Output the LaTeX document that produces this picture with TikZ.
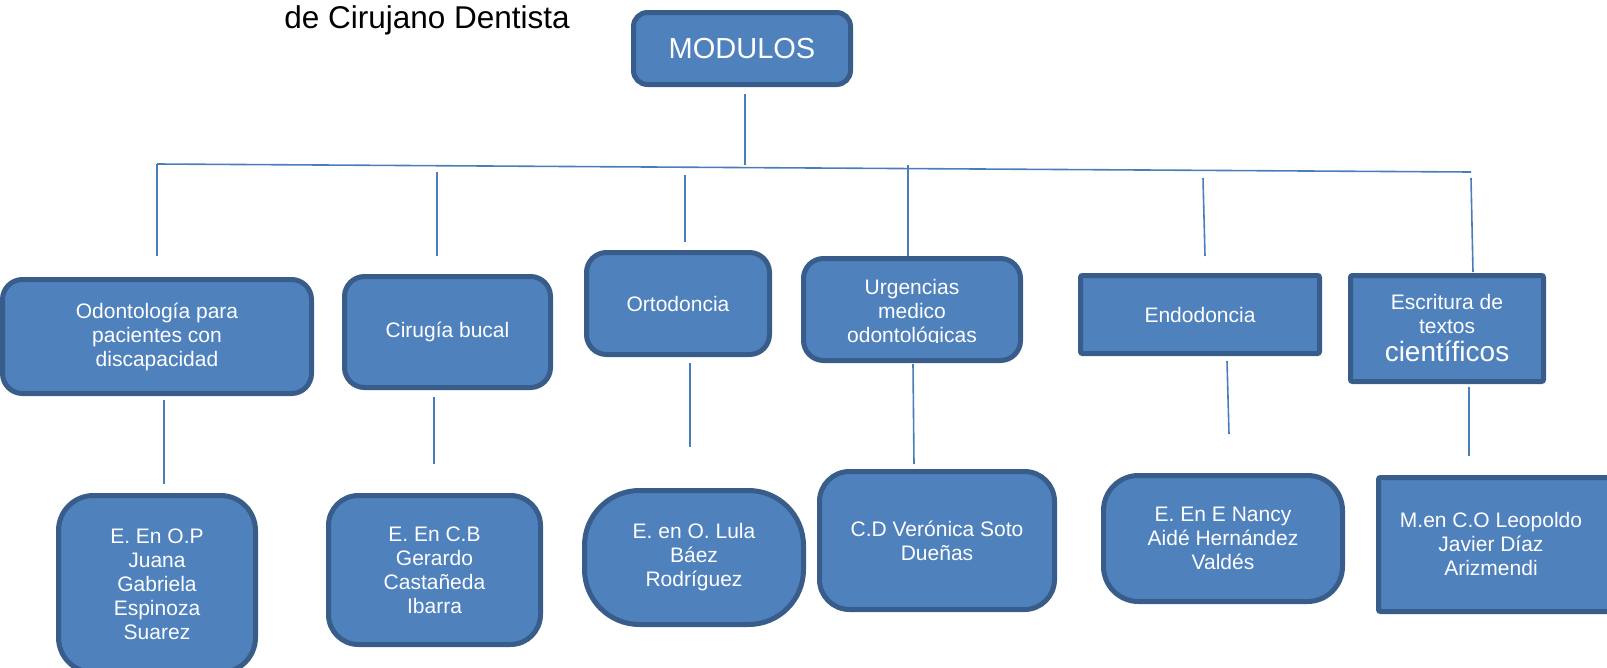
\documentclass[tikz,border=0pt]{standalone}
\usepackage{fontspec}
\setmainfont{Liberation Sans}
\definecolor{boxfill}{HTML}{4F81BD}
\definecolor{boxline}{HTML}{385D8A}
\definecolor{connc}{HTML}{4A7EBB}
\begin{document}
\begin{tikzpicture}[x=1pt,y=-1pt,
  box/.style={draw=boxline, fill=boxfill, line width=5pt, text=white, align=center, inner sep=0pt, font=\fontsize{21}{24}\selectfont},
  txt/.style={text=white, align=center, inner sep=0pt, font=\fontsize{21}{24}\selectfont},
  conn/.style={draw=connc, line width=1.6pt}]
\useasboundingbox (0,0) rectangle (1607,667);

% title
\node[anchor=base, inner sep=0pt, font=\fontsize{31.5}{36}\selectfont] (title) at (427,28) {de Cirujano Dentista};

% root
\node[box, minimum width=217, minimum height=72, rounded corners=14, font=\fontsize{29}{34}\selectfont] (mod) at (742,48.5) {MODULOS};

% level 1
\node[box, minimum width=309, minimum height=114, rounded corners=20] (b1) at (157,336.5) {Odontología para\\pacientes con\\discapacidad};
\node[box, minimum width=206, minimum height=111, rounded corners=20] (b2) at (447.5,332) {Cirugía bucal};
\node[box, minimum width=183, minimum height=102, rounded corners=20] (b3) at (678,303.5) {Ortodoncia};
\node[box, minimum width=217, minimum height=102, rounded corners=20] (b4) at (912,309.5) {};
\begin{scope}
\clip (801,250) rectangle (1023,342);
\node[txt] (b4t) at (912,313) {Urgencias\\medico\\odontológicas};
\end{scope}
\node[box, minimum width=239, minimum height=78, rounded corners=2] (b5) at (1200,314.5) {Endodoncia};
\node[box, minimum width=193, minimum height=106, rounded corners=2] (b6) at (1447,328.5) {Escritura de\\textos\\[4pt]{\fontsize{28}{30}\selectfont científicos}};

% level 2
\node[box, minimum width=197, minimum height=177, rounded corners=35] (c1) at (157,584) {E. En O.P\\Juana\\Gabriela\\Espinoza\\Suarez};
\node[box, minimum width=212, minimum height=149, rounded corners=30] (c2) at (434.5,570) {E. En C.B\\Gerardo\\Castañeda\\Ibarra};
\node[box, minimum width=219, minimum height=134, rounded corners=55] (c3) at (694,557.5) {E. en O. Lula\\Báez\\Rodríguez};
\node[box, minimum width=235, minimum height=138, rounded corners=30] (c4) at (937,540.5) {C.D Verónica Soto\\Dueñas};
\node[box, minimum width=239, minimum height=126, rounded corners=35] (c5) at (1223,538.5) {E. En E Nancy\\Aidé Hernández\\Valdés};
\node[box, minimum width=231, minimum height=134, rounded corners=2] (c6) at (1494,544.5) {};
\node[txt] (c6t) at (1491,544) {M.en C.O Leopoldo\\Javier Díaz\\Arizmendi};

% connector coordinates
\coordinate (m0) at (745,94);
\coordinate (m1) at (745,164.5);
\coordinate (hl) at (157,164);
\coordinate (hr) at (1471,172);
\coordinate (d1a) at (157,164);  \coordinate (d1b) at (157,256);
\coordinate (d2a) at (437,172);  \coordinate (d2b) at (437,256);
\coordinate (d3a) at (685,175);  \coordinate (d3b) at (685,242);
\coordinate (d4a) at (908,165);  \coordinate (d4b) at (908,256);
\coordinate (d5a) at (1203,178); \coordinate (d5b) at (1205,256);
\coordinate (d6a) at (1471,178); \coordinate (d6b) at (1473,272);
\coordinate (e1a) at (164,400);  \coordinate (e1b) at (164,484);
\coordinate (e2a) at (434,397);  \coordinate (e2b) at (434,464);
\coordinate (e3a) at (690,363);  \coordinate (e3b) at (690,447);
\coordinate (e4a) at (913,364);  \coordinate (e4b) at (914,464);
\coordinate (e5a) at (1227,361); \coordinate (e5b) at (1229,434);
\coordinate (e6a) at (1469,387); \coordinate (e6b) at (1469,456);

\draw[conn] (m0) -- (m1);
\draw[conn] (hl) -- (hr);
\foreach \n in {d1,d2,d3,d4,d5,d6,e1,e2,e3,e4,e5,e6}
  \draw[conn] (\n a) -- (\n b);
\end{tikzpicture}
\end{document}
